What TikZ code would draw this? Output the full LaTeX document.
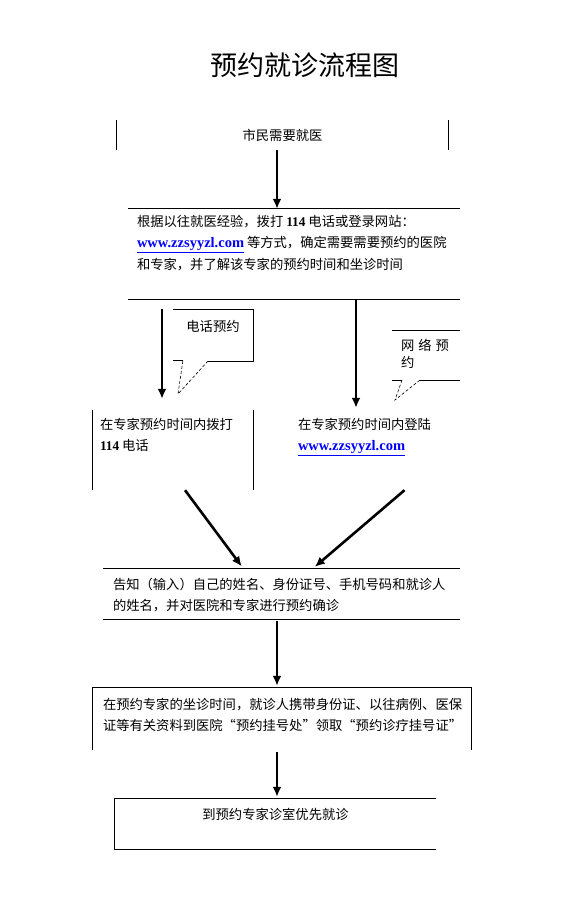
\documentclass[tikz,border=0pt]{standalone}
\usepackage{fontspec}
\setmainfont{Liberation Serif}
\newfontfamily\cjk{Noto Sans CJK SC}
\usetikzlibrary{arrows.meta,positioning}

% fixed-size text block, set from the top
\newcommand{\flowtext}[3]{\parbox[c][#2][t]{#1}{\raggedright #3}}
\newcommand{\site}{\textcolor{blue}{{\rmfamily\bfseries\fontsize{14.5}{20}\selectfont\underline{www.zzsyyzl.com}}}}

\tikzset{
  every node/.style={font=\cjk\fontsize{13.3}{21.5}\selectfont},
  rim/.style={line width=.8pt},
  bubble/.style={line width=.6pt},
  flowarrow/.style={line width=2.6pt,-{Latex[length=10pt,width=9pt]}},
}

\begin{document}
\begin{tikzpicture}[x=1pt,y=-1pt]
\useasboundingbox (0,0) rectangle (576,900);
\fill[white] (0,0) rectangle (576,900);

\node[font=\cjk\fontsize{27}{30}\selectfont] (title) at (305,65) {预约就诊流程图};

% boxes
\node[inner sep=0pt,minimum width=331pt,minimum height=30pt] (need) at (282.5,135) {市民需要就医};
\node[inner xsep=9pt,inner ysep=6pt] (advice) at (294,254)
  {\flowtext{314pt}{78pt}{根据以往就医经验，拨打 \textbf{\rmfamily 114} 电话或登录网站：\\
   \site\ 等方式，确定需要需要预约的医院\\
   和专家，并了解该专家的预约时间和坐诊时间}};
\node[inner xsep=7pt,inner ysep=8pt] (phone) at (173,450)
  {\flowtext{146pt}{64pt}{在专家预约时间内拨打\\ \textbf{\rmfamily 114} 电话}};
\node[inner xsep=13pt,inner ysep=10pt] (web) at (372.5,449)
  {\flowtext{149pt}{62pt}{在专家预约时间内登陆\\ \site}};
\node[inner xsep=10pt,inner ysep=9pt] (inform) at (281.5,594)
  {\flowtext{337pt}{32pt}{告知（输入）自己的姓名、身份证号、手机号码和就诊人\\
   的姓名，并对医院和专家进行预约确诊}};
\node[inner xsep=10pt,inner ysep=10pt] (visit) at (282,719)
  {\flowtext{358pt}{42pt}{在预约专家的坐诊时间，就诊人携带身份证、以往病例、医保\\
   证等有关资料到医院“预约挂号处”领取“预约诊疗挂号证”}};
\node[inner xsep=0pt,inner ysep=9pt] (clinic) at (275.5,824)
  {\flowtext{321pt}{32pt}{\centering 到预约专家诊室优先就诊}};

% partial borders
\draw[rim] (need.north west) -- (need.south west) (need.north east) -- (need.south east);
\draw[rim] (advice.north west) -- (advice.north east) (advice.south west) -- (advice.south east);
\draw[rim] (phone.north west) -- (phone.south west) (phone.north east) -- (phone.south east);
\draw[rim] (inform.north west) -- (inform.north east) (inform.south west) -- (inform.south east);
\draw[rim] (visit.south west) -- (visit.north west) -- (visit.north east) -- (visit.south east);
\draw[rim] (clinic.north east) -- (clinic.north west) -- (clinic.south west) -- (clinic.south east);

% callouts
\node (phonetag) at (213,326) {电话预约};
\draw[bubble] (173,309) -- (253,309) -- (253,361) -- (208,361);
\draw[bubble,densely dashed] (208,361) -- (178,394) -- (183,360);
\draw[bubble] (183,360) -- (173,360);
\node[align=left,font=\cjk\fontsize{13.3}{17}\selectfont] (webtag) at (425,353.5) {网\hspace{4pt}络\hspace{4pt}预\\约};
\draw[bubble] (392,330) -- (460,330);
\draw[bubble] (392,380) -- (402,380);
\draw[bubble,densely dashed] (402,380) -- (395,400) -- (420,380);
\draw[bubble] (420,380) -- (460,380);

% arrows
\coordinate (spine) at (277,0);
\coordinate (phonecol) at (162,0);
\coordinate (webcol) at (356,0);
\draw[flowarrow] (need.south -| spine) -- (advice.north -| spine);
\draw[flowarrow,shorten <=10pt,shorten >=11pt] (advice.south -| phonecol) -- (phone.north -| phonecol);
\draw[flowarrow] (advice.south -| webcol) -- (web.north -| webcol);
\draw[flowarrow,shorten >=3pt] ([xshift=12pt]phone.south) -- ([xshift=-38pt]inform.north);
\draw[flowarrow,shorten >=3pt] ([xshift=32pt]web.south) -- ([xshift=31pt]inform.north);
\draw[flowarrow,shorten <=2pt,shorten >=2pt] (inform.south -| spine) -- (visit.north -| spine);
\draw[flowarrow,shorten <=2pt,shorten >=2pt] (visit.south -| spine) -- (clinic.north -| spine);
\end{tikzpicture}
\end{document}
